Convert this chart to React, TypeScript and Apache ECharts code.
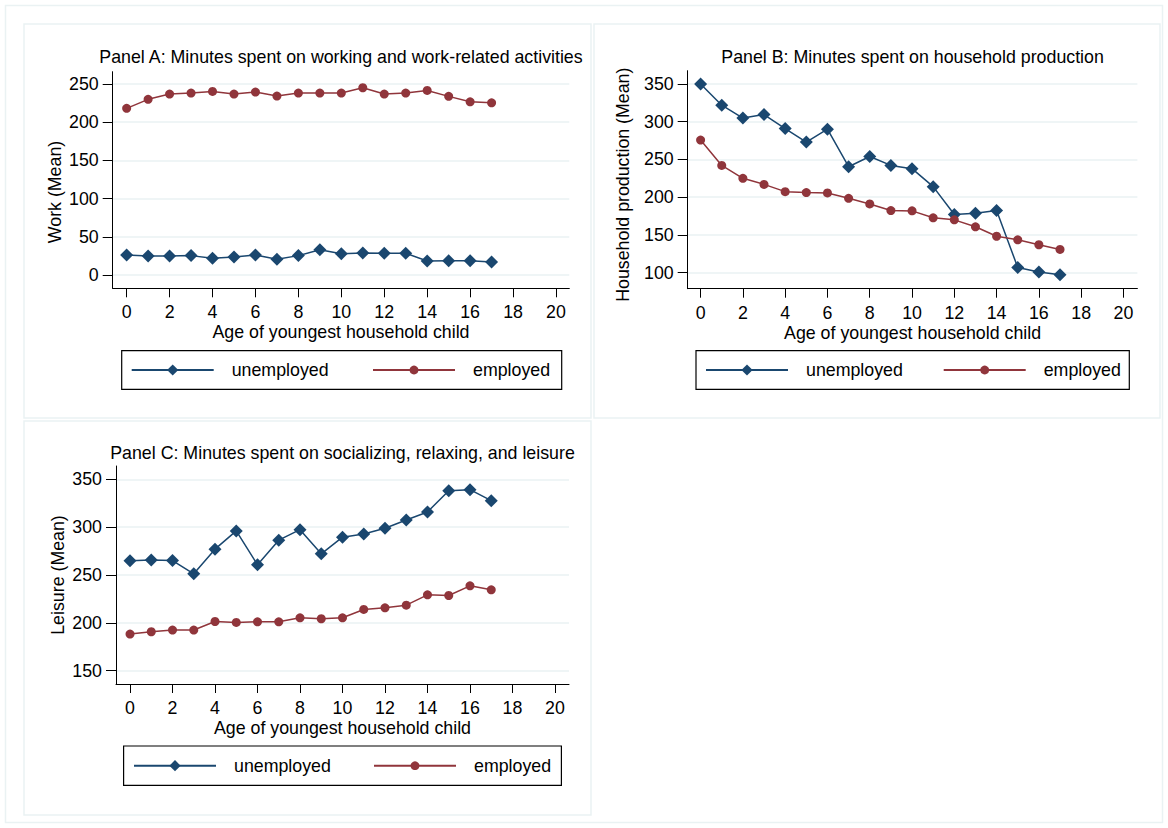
import React, { useEffect, useRef } from "react";
import * as echarts from "echarts";

const ages = [0, 1, 2, 3, 4, 5, 6, 7, 8, 9, 10, 11, 12, 13, 14, 15, 16, 17];
const xTicks = [0, 2, 4, 6, 8, 10, 12, 14, 16, 18, 20];

const workUnemployed = [26.2, 24.9, 24.9, 25.3, 21.9, 23.6, 26.2, 20.5, 25.3, 33.1, 27.9, 28.8, 28.4, 28.4, 18.3, 18.7, 18.7, 17.0];
const workEmployed = [218.2, 230.0, 236.9, 238.2, 240.4, 236.9, 239.5, 234.3, 238.2, 238.2, 238.2, 245.2, 236.9, 238.2, 241.7, 233.9, 226.8, 225.5];
const homeUnemployed = [350.1, 321.9, 304.8, 309.5, 291.0, 273.0, 290.2, 240.4, 254.0, 242.1, 237.8, 214.0, 177.0, 178.7, 182.3, 107.0, 100.8, 97.4];
const homeEmployed = [275.7, 242.1, 225.0, 217.0, 207.4, 206.1, 205.7, 198.5, 191.1, 182.3, 181.9, 172.7, 170.0, 160.8, 148.3, 143.6, 137.0, 130.8];
const leisureUnemployed = [264.8, 265.8, 265.1, 251.2, 277.0, 296.1, 260.6, 286.4, 297.4, 272.1, 289.5, 292.9, 298.9, 307.5, 315.9, 338.1, 339.2, 327.7];
const leisureEmployed = [188.3, 190.7, 192.5, 192.5, 201.4, 200.4, 201.1, 201.1, 205.3, 204.3, 205.3, 214.0, 215.7, 218.5, 229.3, 228.6, 238.7, 234.5];

const workTicks = [0, 50, 100, 150, 200, 250];
const homeTicks = [100, 150, 200, 250, 300, 350];
const leisureTicks = [150, 200, 250, 300, 350];

const titles = [
  "Panel A: Minutes spent on working and work-related activities",
  "Panel B: Minutes spent on household production",
  "Panel C: Minutes spent on socializing, relaxing, and leisure",
];
const yNames = ["Work (Mean)", "Household production (Mean)", "Leisure (Mean)"];
const xName = "Age of youngest household child";
const seriesNames = ["unemployed", "employed"];

const BLUE = "#1a476f";
const RED = "#90353b";
const GRIDC = "#eaf2f3";
const FONT = "Liberation Sans, Arial, sans-serif";
const FS = 17.8;

const panels = [
  {
    grid: { left: 112.7, top: 71.7, width: 456.6, height: 216.6 },
    x: [-0.65, 20.62], y: [-17.5, 266.2], yTicks: workTicks,
    data: [workUnemployed, workEmployed],
    titleTop: 47, nameGap: 45, namePad: [0, 24, 0, 0],
    legendBox: { x: 121.7, y: 350.7, width: 440, height: 38.6 },
    legendLeft: [130.7, 372], legendCenter: 370,
  },
  {
    grid: { left: 687.7, top: 70.7, width: 449.7, height: 218 },
    x: [-0.61, 20.66], y: [78.8, 367.6], yTicks: homeTicks,
    data: [homeUnemployed, homeEmployed],
    titleTop: 47, nameGap: 55, namePad: [0, 10, 0, 0],
    legendBox: { x: 696, y: 350.7, width: 433.3, height: 38.6 },
    legendLeft: [705, 942.7], legendCenter: 370,
  },
  {
    grid: { left: 116, top: 466, width: 453, height: 218 },
    x: [-0.66, 20.66], y: [136.1, 363.9], yTicks: leisureTicks,
    data: [leisureUnemployed, leisureEmployed],
    titleTop: 443, nameGap: 47, namePad: [0, 0, 0, 0],
    legendBox: { x: 123.6, y: 746, width: 437.8, height: 39.3 },
    legendLeft: [133, 373], legendCenter: 765.7,
  },
];

export default function App() {
  const ref = useRef<HTMLDivElement>(null);
  useEffect(() => {
    if (!ref.current) return;
    const chart = echarts.init(ref.current, null, { renderer: "svg" });
    const textBase = { fontFamily: FONT, fontSize: FS, color: "#000" };

    const grid = panels.map((p) => ({ ...p.grid, containLabel: false }));
    const xAxis = panels.map((p, i) => ({
      type: "value",
      gridIndex: i,
      min: p.x[0],
      max: p.x[1],
      name: xName,
      nameLocation: "middle",
      nameGap: 31,
      nameTextStyle: { ...textBase, lineHeight: 20 },
      axisLine: { show: true, onZero: false, lineStyle: { color: "#000", width: 1 } },
      axisTick: { show: true, length: 9, customValues: xTicks, lineStyle: { color: "#000", width: 1 } },
      axisLabel: { ...textBase, margin: 15, customValues: xTicks, showMinLabel: true, showMaxLabel: true },
      splitLine: { show: false },
    }));
    const yAxis = panels.map((p, i) => ({
      type: "value",
      gridIndex: i,
      min: p.y[0],
      max: p.y[1],
      name: yNames[i],
      nameLocation: "middle",
      nameGap: p.nameGap,
      nameTextStyle: { ...textBase, lineHeight: 20, padding: p.namePad },
      axisLine: { show: true, onZero: false, lineStyle: { color: "#000", width: 1 } },
      axisTick: { show: true, length: 10, customValues: p.yTicks, lineStyle: { color: "#000", width: 1 } },
      axisLabel: { ...textBase, margin: 14, customValues: p.yTicks },
      splitLine: { show: true, lineStyle: { color: GRIDC, width: 1.5 } },
    }));

    const series: any[] = [];
    panels.forEach((p, i) => {
      p.data.forEach((vals, k) => {
        series.push({
          type: "line",
          name: seriesNames[k],
          xAxisIndex: i,
          yAxisIndex: i,
          data: ages.map((a, j) => [a, vals[j]]),
          symbol: k === 0 ? "diamond" : "circle",
          symbolSize: k === 0 ? 13 : 9,
          showAllSymbol: true,
          color: k === 0 ? BLUE : RED,
          itemStyle: { color: k === 0 ? BLUE : RED },
          lineStyle: { color: k === 0 ? BLUE : RED, width: 1.5 },
          z: 3 + k,
        });
      });
    });

    const legend: any[] = [];
    panels.forEach((p) => {
      seriesNames.forEach((nm, k) => {
        legend.push({
          data: [nm],
          left: p.legendLeft[k],
          top: p.legendCenter - 10,
          orient: "horizontal",
          padding: 0,
          itemWidth: 82,
          itemHeight: k === 0 ? 14 : 11,
          selectedMode: false,
          textStyle: { ...textBase, lineHeight: 20, padding: [0, 0, 0, 13] },
        });
      });
    });

    const title = panels.map((p, i) => ({
      text: titles[i],
      left: p.grid.left + p.grid.width / 2,
      top: p.titleTop,
      textAlign: "center",
      padding: 0,
      textStyle: { ...textBase, fontWeight: "normal", lineHeight: 20 },
    }));

    const graphic: any[] = [
      { type: "rect", shape: { x: 5.5, y: 5.5, width: 1157, height: 817 }, style: { fill: "none", stroke: GRIDC, lineWidth: 1.5 }, silent: true, z: -10 },
      { type: "rect", shape: { x: 24, y: 24, width: 567, height: 394 }, style: { fill: "none", stroke: GRIDC, lineWidth: 1.5 }, silent: true, z: -10 },
      { type: "rect", shape: { x: 594, y: 24, width: 566, height: 394 }, style: { fill: "none", stroke: GRIDC, lineWidth: 1.5 }, silent: true, z: -10 },
      { type: "rect", shape: { x: 24, y: 421, width: 567, height: 394 }, style: { fill: "none", stroke: GRIDC, lineWidth: 1.5 }, silent: true, z: -10 },
      ...panels.map((p) => ({
        type: "rect",
        shape: p.legendBox,
        style: { fill: "none", stroke: "#000", lineWidth: 1.2 },
        silent: true,
      })),
    ];

    chart.setOption({
      animation: false,
      backgroundColor: "#fff",
      textStyle: { fontFamily: FONT },
      title,
      grid,
      xAxis,
      yAxis,
      series,
      legend,
      graphic,
    });
    return () => chart.dispose();
  }, []);
  return (
    <div
      ref={ref}
      style={{ position: "absolute", left: 0, top: 0, width: 1168, height: 828, background: "#fff" }}
    />
  );
}
